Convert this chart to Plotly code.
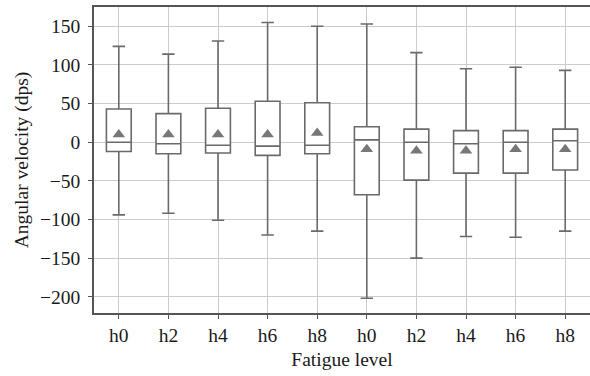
import plotly.graph_objects as go

# Fatigue levels for the two groups of five boxes
labels = ["h0", "h2", "h4", "h6", "h8", "h0", "h2", "h4", "h6", "h8"]
positions = list(range(len(labels)))

# Box statistics (angular velocity, dps)
upper_whisker = [124, 114, 131, 155, 150, 153, 116, 95, 97, 93]
q3_values = [43, 37, 44, 53, 51, 20, 17, 15, 15, 17]
medians = [0, -2, -4, -5, -4, 3, 0, -2, 0, 2]
q1_values = [-12, -15, -14, -17, -15, -68, -49, -40, -40, -36]
lower_whisker = [-94, -92, -101, -120, -115, -202, -150, -122, -123, -115]
means = [10, 10, 10, 10, 12, -9, -11, -11, -9, -9]

y_ticks = [-200, -150, -100, -50, 0, 50, 100, 150]

fig = go.Figure()

fig.add_trace(go.Box(
    x=positions,
    q1=q1_values,
    median=medians,
    q3=q3_values,
    lowerfence=lower_whisker,
    upperfence=upper_whisker,
    width=0.5,
    whiskerwidth=0.5,
    fillcolor="white",
    line=dict(color="#6a6a6a", width=1.6),
    boxpoints=False,
    showlegend=False,
    hoverinfo="skip",
))

fig.add_trace(go.Scatter(
    x=positions,
    y=means,
    mode="markers",
    marker=dict(symbol="triangle-up", size=11, color="#777777", line=dict(width=0)),
    showlegend=False,
    hoverinfo="skip",
))

axis_font = dict(family="Liberation Serif", size=19.5, color="#1a1a1a")

fig.update_layout(
    width=590,
    height=376,
    margin=dict(l=94, r=0, t=7, b=63),
    paper_bgcolor="white",
    plot_bgcolor="white",
    font=axis_font,
    xaxis=dict(
        range=[-0.5, 9.5],
        tickvals=positions,
        ticktext=labels,
        showgrid=True,
        gridcolor="#cccccc",
        gridwidth=1,
        showline=True,
        linecolor="#555555",
        linewidth=1.5,
        mirror=True,
        ticks="outside",
        ticklen=4,
        tickcolor="#555555",
        zeroline=False,
        tickfont=axis_font,
        title=dict(text="Fatigue level", font=axis_font, standoff=7),
    ),
    yaxis=dict(
        range=[-221, 175],
        tickvals=y_ticks,
        ticktext=[f"\u2212{abs(v)}" if v < 0 else str(v) for v in y_ticks],
        showgrid=True,
        gridcolor="#cccccc",
        gridwidth=1,
        showline=True,
        linecolor="#555555",
        linewidth=1.5,
        ticks="outside",
        ticklen=4,
        tickcolor="#555555",
        ticklabelstandoff=4,
        zeroline=False,
        tickfont=axis_font,
        title=dict(text="Angular velocity (dps)", font=axis_font, standoff=6),
    ),
)

fig.write_html("out.html")
